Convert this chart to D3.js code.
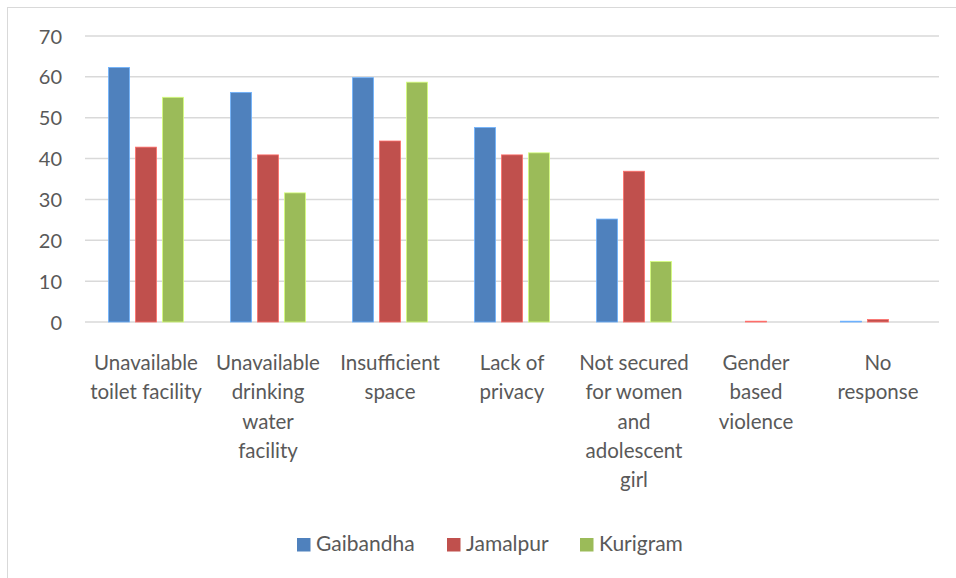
<!DOCTYPE html>
<html>
<head>
<meta charset="utf-8">
<script src="https://cdn.jsdelivr.net/npm/d3@7/dist/d3.min.js"></script>
<style>
  html, body { margin: 0; padding: 0; background: #fff; }
  svg { display: block; }
  text { font-family: Lato, "Open Sans", sans-serif; fill: #595959; }
</style>
</head>
<body>
<svg id="chart" width="956" height="578"></svg>
<script>
// Reasons for not using the shelter, by district (%)
const categories = [
  ["Unavailable", "toilet facility"],
  ["Unavailable", "drinking", "water", "facility"],
  ["Insufficient", "space"],
  ["Lack of", "privacy"],
  ["Not secured", "for women", "and", "adolescent", "girl"],
  ["Gender", "based", "violence"],
  ["No", "response"]
];
const seriesNames = ["Gaibandha", "Jamalpur", "Kurigram"];
const gaibandha = [62.3, 56.2, 59.8, 47.6, 25.2, 0, 0.2];
const jamalpur  = [42.8, 40.9, 44.3, 40.9, 36.9, 0.2, 0.6];
const kurigram  = [55.0, 31.6, 58.7, 41.4, 14.8, 0, 0];
const yTicks = [0, 10, 20, 30, 40, 50, 60, 70];
const colors = ["#4F81BD", "#C0504D", "#9BBB59"];

const series = [gaibandha, jamalpur, kurigram];
const svg = d3.select("#chart");

// outer chart frame
svg.append("rect")
  .attr("x", 7.5).attr("y", 7.5)
  .attr("width", 980).attr("height", 600)
  .attr("fill", "none").attr("stroke", "#d9d9d9").attr("stroke-width", 1);

const plot = { left: 85, right: 939, top: 36, bottom: 322 };

const x0 = d3.scaleBand()
  .domain(d3.range(categories.length))
  .range([plot.left, plot.right])
  .paddingInner(0).paddingOuter(0);

const x1 = d3.scaleBand()
  .domain(d3.range(seriesNames.length))
  .range([23.5, x0.bandwidth() - 23.5])
  .paddingInner(0.22);

const y = d3.scaleLinear().domain([0, 70]).range([plot.bottom, plot.top]);

// gridlines
svg.append("g")
  .selectAll("line")
  .data(yTicks)
  .join("line")
  .attr("x1", plot.left).attr("x2", plot.right)
  .attr("y1", d => y(d)).attr("y2", d => y(d))
  .attr("stroke", "#d9d9d9").attr("stroke-width", 1.5);

// y axis labels
const yAxis = d3.axisLeft(y).tickValues(yTicks).tickSize(0).tickPadding(0);
const yg = svg.append("g")
  .attr("transform", `translate(${plot.left - 23},0)`)
  .call(yAxis);
yg.select(".domain").remove();
yg.selectAll("text")
  .attr("font-size", 20)
  .attr("font-family", "Lato, 'Open Sans', sans-serif")
  .attr("fill", "#595959")
  .attr("dy", "0.35em");

// bars
const groups = svg.append("g")
  .selectAll("g")
  .data(categories.map((c, i) => i))
  .join("g")
  .attr("transform", i => `translate(${x0(i)},0)`);

groups.selectAll("rect")
  .data(i => series.map((s, k) => ({ k, v: s[i] })))
  .join("rect")
  .attr("x", d => x1(d.k))
  .attr("width", x1.bandwidth())
  .attr("y", d => y(d.v))
  .attr("height", d => y(0) - y(d.v))
  .attr("fill", d => colors[d.k])
  .attr("stroke", d => d3.color(colors[d.k]).brighter(0.9))
  .attr("stroke-width", 0.8)
  .attr("stroke-opacity", d => d.v > 0 ? 1 : 0);

// category labels
const catG = svg.append("g");
categories.forEach((lines, i) => {
  const cx = x0(i) + x0.bandwidth() / 2;
  const t = catG.append("text")
    .attr("x", cx)
    .attr("y", 370)
    .attr("text-anchor", "middle")
    .attr("font-size", 20.5);
  lines.forEach((ln, j) => {
    t.append("tspan")
      .attr("x", cx)
      .attr("dy", j === 0 ? 0 : 29.3)
      .text(ln);
  });
});

// legend
const legendX = [297, 447, 580];
const legend = svg.append("g");
seriesNames.forEach((name, k) => {
  legend.append("rect")
    .attr("x", legendX[k]).attr("y", 538)
    .attr("width", 13.5).attr("height", 13.5)
    .attr("fill", colors[k]);
  legend.append("text")
    .attr("x", legendX[k] + 19).attr("y", 551)
    .attr("font-size", 21)
    .text(name);
});
</script>
</body>
</html>
